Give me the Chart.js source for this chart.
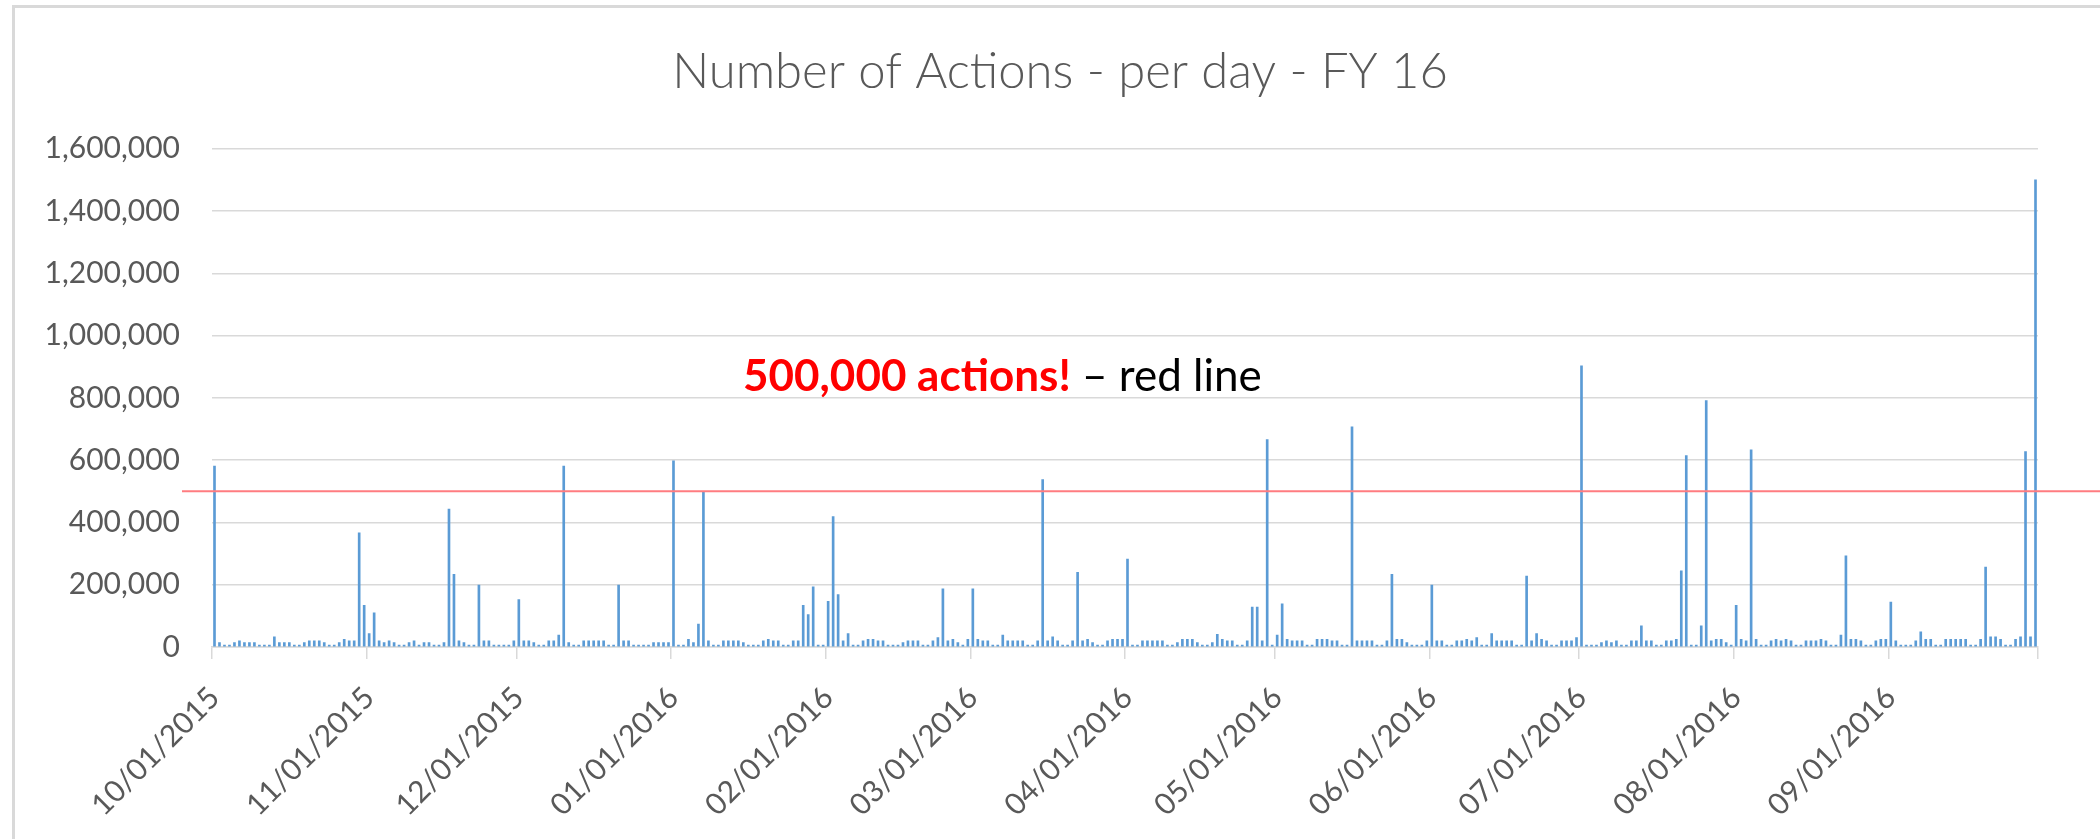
<!DOCTYPE html>
<html>
<head>
<meta charset="utf-8">
<script src="https://cdn.jsdelivr.net/npm/chart.js@4/dist/chart.umd.min.js"></script>
<style>
  html, body { margin: 0; padding: 0; background: #fff; }
  #wrap { position: relative; width: 2100px; height: 839px; overflow: hidden; }
  #actionsChart { position: absolute; left: 0; top: 0; }
  .frameLeft { position: absolute; left: 12px; top: 5px; width: 3px; height: 834px; background: #d9d9d9; }
  .frameTop { position: absolute; left: 12px; top: 5px; width: 2088px; height: 3px; background: #d9d9d9; }
</style>
</head>
<body>
<div id="wrap">
  <canvas id="actionsChart" width="2100" height="839"></canvas>
  <div class="frameLeft"></div>
  <div class="frameTop"></div>
</div>
<script>
// daily action counts, one array per month (FY16: Oct 2015 - Sep 2016)
var oct2015 = [581000, 14000, 6500, 6500, 14000, 20000, 14000, 14000, 14000, 6500, 6500, 6500, 33000, 14000, 14000, 14000, 6500, 6500, 14000, 20000, 20000, 20000, 14000, 6500, 6500, 14000, 25000, 20000, 20000, 367000, 134000];
var nov2015 = [43000, 110000, 20000, 14000, 20000, 14000, 6500, 6500, 14000, 20000, 6500, 14000, 14000, 6500, 6500, 14000, 443000, 233000, 20000, 14000, 6500, 6500, 199000, 20000, 20000, 6500, 6500, 6500, 6500, 20000];
var dec2015 = [152000, 20000, 20000, 14000, 6500, 6500, 20000, 20000, 38000, 581000, 14000, 6500, 6500, 20000, 20000, 20000, 20000, 20000, 6500, 6500, 199000, 20000, 20000, 6500, 6500, 6500, 6500, 14000, 14000, 14000, 14000];
var jan2016 = [598000, 6500, 6500, 25000, 14000, 74000, 497000, 20000, 6500, 6500, 20000, 20000, 20000, 20000, 14000, 6500, 6500, 6500, 20000, 25000, 20000, 20000, 6500, 6500, 20000, 20000, 134000, 104000, 193000, 6500, 6500];
var feb2016 = [147000, 419000, 168000, 20000, 43000, 6500, 6500, 20000, 25000, 25000, 20000, 20000, 6500, 6500, 6500, 14000, 20000, 20000, 20000, 6500, 6500, 20000, 30000, 187000, 20000, 25000, 14000, 6500, 25000];
var mar2016 = [187000, 25000, 20000, 20000, 6500, 6500, 38000, 20000, 20000, 20000, 20000, 6500, 6500, 20000, 538000, 20000, 33000, 20000, 6500, 6500, 20000, 240000, 20000, 25000, 14000, 6500, 6500, 20000, 25000, 25000, 25000];
var apr2016 = [282000, 6500, 6500, 20000, 20000, 20000, 20000, 20000, 6500, 6500, 14000, 25000, 25000, 25000, 14000, 6500, 6500, 14000, 41000, 25000, 20000, 20000, 6500, 6500, 20000, 128000, 128000, 20000, 666000, 6500];
var may2016 = [38000, 139000, 25000, 20000, 20000, 20000, 6500, 6500, 25000, 25000, 25000, 20000, 20000, 6500, 6500, 707000, 20000, 20000, 20000, 20000, 6500, 6500, 20000, 233000, 25000, 25000, 14000, 6500, 6500, 6500, 20000];
var jun2016 = [199000, 20000, 20000, 6500, 6500, 20000, 20000, 25000, 20000, 30000, 6500, 6500, 43000, 20000, 20000, 20000, 20000, 6500, 6500, 228000, 20000, 43000, 25000, 20000, 6500, 6500, 20000, 20000, 20000, 30000];
var jul2016 = [903000, 6500, 6500, 6500, 14000, 20000, 14000, 20000, 6500, 6500, 20000, 20000, 68000, 20000, 20000, 6500, 6500, 20000, 20000, 25000, 245000, 615000, 6500, 6500, 68000, 791000, 20000, 25000, 25000, 14000, 6500];
var aug2016 = [134000, 25000, 20000, 633000, 25000, 6500, 6500, 20000, 25000, 20000, 25000, 20000, 6500, 6500, 20000, 20000, 20000, 25000, 20000, 6500, 6500, 38000, 293000, 25000, 25000, 20000, 6500, 6500, 20000, 25000, 25000];
var sep2016 = [144000, 20000, 6500, 6500, 6500, 20000, 49000, 25000, 25000, 6500, 6500, 25000, 25000, 25000, 25000, 25000, 6500, 6500, 25000, 257000, 33000, 33000, 25000, 6500, 6500, 25000, 33000, 628000, 33000, 1500000];

var monthKeys = ['10/2015', '11/2015', '12/2015', '01/2016', '02/2016', '03/2016', '04/2016', '05/2016', '06/2016', '07/2016', '08/2016', '09/2016'];
var monthValues = [oct2015, nov2015, dec2015, jan2016, feb2016, mar2016, apr2016, may2016, jun2016, jul2016, aug2016, sep2016];
var yTicks = [0, 200000, 400000, 600000, 800000, 1000000, 1200000, 1400000, 1600000];
var thresholdValue = 500000;
var titleText = 'Number of Actions - per day - FY 16';

var labels = [];
var values = [];
monthKeys.forEach(function (key, m) {
    var parts = key.split('/');
    monthValues[m].forEach(function (v, d) {
        var day = (d + 1 < 10 ? '0' : '') + (d + 1);
        labels.push(parts[0] + '/' + day + '/' + parts[1]);
        values.push(v);
    });
});

var axisGray = '#d9d9d9';
var textGray = '#595959';

// red 500k line + note, drawn over the bars
var thresholdPlugin = {
    id: 'threshold',
    afterDatasetsDraw: function (chart) {
        var c = chart.ctx;
        var y = chart.scales.y.getPixelForValue(thresholdValue);
        c.save();
        c.strokeStyle = '#ff7c80';
        c.lineWidth = 2;
        c.beginPath();
        c.moveTo(182, y);
        c.lineTo(chart.width, y);
        c.stroke();

        c.textBaseline = 'alphabetic';
        c.textAlign = 'left';
        c.font = 'bold 44px Lato';
        c.fillStyle = '#ff0000';
        var first = '500,000 actions!';
        c.fillText(first, 743, 391);
        var w = c.measureText(first).width;
        c.font = '44px Lato';
        c.fillStyle = '#000000';
        c.fillText(' \u2013 red line', 743 + w, 391);
        c.restore();
    }
};

var ctx = document.getElementById('actionsChart').getContext('2d');
var actionsChart = new Chart(ctx, {
    type: 'bar',
    data: {
        labels: labels,
        datasets: [{
            label: 'Actions',
            data: values,
            yAxisID: 'y',
            backgroundColor: '#5b9bd5',
            borderWidth: 0,
            barThickness: 2
        }]
    },
    options: {
        responsive: false,
        animation: false,
        devicePixelRatio: 1,
        layout: { padding: { left: 20, right: 0, top: 0, bottom: 0 } },
        plugins: {
            legend: { display: false },
            tooltip: { enabled: false },
            title: {
                display: true,
                text: titleText,
                color: textGray,
                font: { family: 'Lato', size: 49, weight: '300' },
                padding: { top: 43, bottom: 47 }
            }
        },
        scales: {
            x: {
                offset: true,
                grid: {
                    offset: true,
                    drawOnChartArea: false,
                    drawTicks: true,
                    tickLength: 12,
                    lineWidth: 1.5,
                    color: function (c) {
                        if (c.type !== 'tick') return axisGray;
                        return c.tick.label ? axisGray : 'rgba(0,0,0,0)';
                    }
                },
                border: { display: true, color: axisGray, width: 1.5 },
                ticks: {
                    autoSkip: false,
                    maxRotation: 45,
                    minRotation: 45,
                    padding: 21,
                    color: textGray,
                    font: { family: 'Lato', size: 30 },
                    callback: function (val, i) {
                        var lab = labels[i];
                        return lab.substr(3, 2) === '01' ? lab : '';
                    }
                },
                afterFit: function (scale) {
                    scale.height = 192;
                    scale.paddingLeft = 0;
                    scale.paddingRight = 0;
                }
            },
            y: {
                min: 0,
                max: yTicks[yTicks.length - 1],
                afterBuildTicks: function (scale) {
                    scale.ticks = yTicks.map(function (v) { return { value: v }; });
                },
                grid: { color: axisGray, lineWidth: 1.5, drawTicks: false },
                border: { display: false },
                ticks: {
                    padding: 32,
                    color: textGray,
                    font: { family: 'Lato', size: 30 },
                    callback: function (v) { return v.toLocaleString('en-US'); }
                },
                afterFit: function (scale) {
                    scale.width = 192;
                    scale.paddingTop = 0;
                    scale.paddingBottom = 0;
                }
            },
            // empty right-hand box that sets the right edge of the plot
            yRight: {
                position: 'right',
                grid: { display: false },
                border: { display: false },
                ticks: { display: false },
                afterFit: function (scale) {
                    scale.width = 62;
                    scale.paddingTop = 0;
                    scale.paddingBottom = 0;
                }
            }
        }
    },
    plugins: [thresholdPlugin]
});
</script>
</body>
</html>
